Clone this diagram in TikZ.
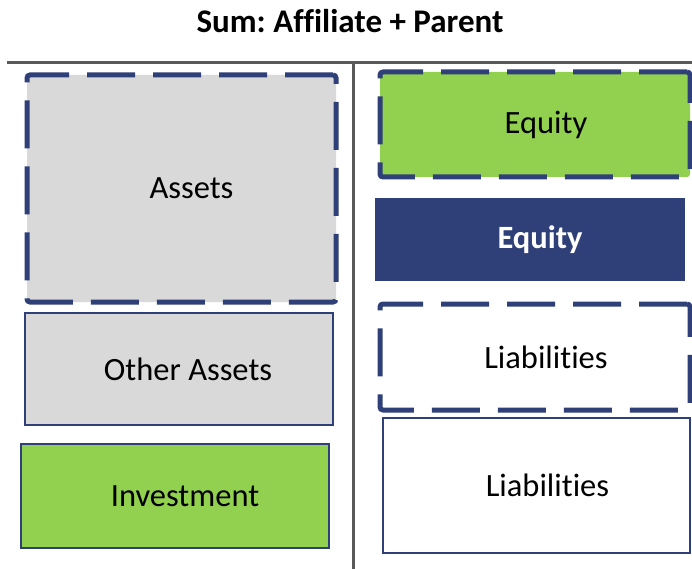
\documentclass[tikz,border=0pt]{standalone}
\usepackage{fontspec}
\setmainfont{Carlito}[Ligatures=NoCommon]
\usepackage{tikz}

\definecolor{navy}{HTML}{2F3F78}
\definecolor{boxgray}{HTML}{D9D9D9}
\definecolor{boxgreen}{HTML}{92D050}
\definecolor{rulegray}{HTML}{595959}

\newcommand{\boxtext}[2]{\hspace{#1}\raisebox{-5pt}{#2}}

\tikzset{
  plainbox/.style={rectangle,draw=navy,line width=1.2pt,inner sep=0pt},
  dashbox/.style={rectangle,draw=navy,line width=5pt,rounded corners=3pt,
    dash pattern=on 48pt off 18pt,inner sep=0pt},
}

\begin{document}
\frenchspacing
\begin{tikzpicture}[x=1pt,y=-1pt,font=\fontsize{32.5}{38}\selectfont]
        \useasboundingbox (0,0) rectangle (692,569);
        \node (title) at (350,21) {\fontsize{33}{38}\selectfont\bfseries Sum: Affiliate + Parent};
        % T-account rules
        \coordinate (ruleL) at (7,63);
        \coordinate (ruleR) at (692,63);
        \coordinate (ruleT) at (353,63);
        \coordinate (ruleB) at (353,569);
        \draw [rulegray,line width=3pt] (ruleL) -- (ruleR);
        \draw [rulegray,line width=3pt] (ruleT) -- (ruleB);
        % left side
        \node (assets) at (181.5,188.5) [dashbox,fill=boxgray,minimum width=309pt,minimum height=227pt] {\boxtext{20pt}{Assets}};
        \node (other) at (179,369) [plainbox,fill=boxgray,minimum width=308pt,minimum height=112pt] {\boxtext{18pt}{Other Assets}};
        \node (invest) at (175,496) [plainbox,fill=boxgreen,minimum width=308pt,minimum height=104pt] {\boxtext{20pt}{Investment}};
        % right side
        \node (eqA) at (535,124.5) [dashbox,fill=boxgreen,minimum width=310pt,minimum height=105pt] {\boxtext{22pt}{Equity}};
        \node (eqP) at (530,239.5) [rectangle,fill=navy,text=white,font=\fontsize{32.5}{38}\selectfont\bfseries,minimum width=310pt,minimum height=83pt] {\boxtext{20pt}{Equity}};
        \node (liabA) at (535,357) [dashbox,fill=white,minimum width=310pt,minimum height=106pt] {\boxtext{22pt}{Liabilities}};
        \node (liabP) at (536.5,485.5) [plainbox,fill=white,minimum width=307pt,minimum height=135pt] {\boxtext{22pt}{Liabilities}};
      \end{tikzpicture}
\end{document}
